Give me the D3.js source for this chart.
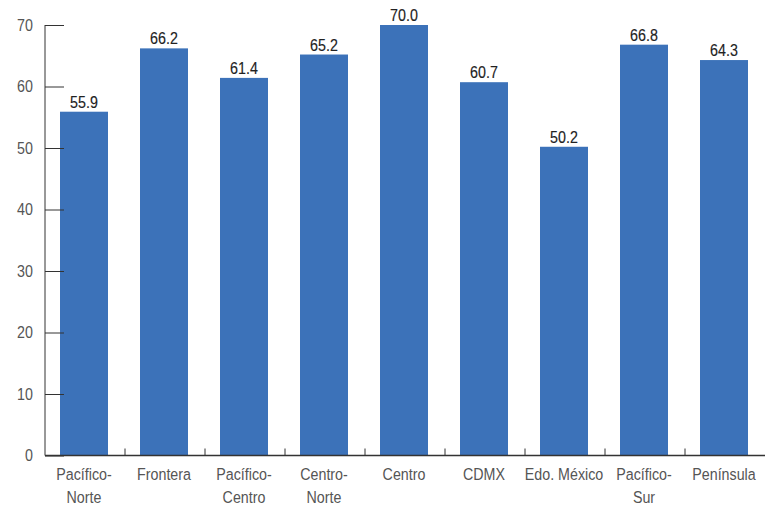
<!DOCTYPE html>
<html><head><meta charset="utf-8">
<script src="https://cdn.jsdelivr.net/npm/d3@7"></script>
<style>body{margin:0;background:#fff}svg{display:block}</style>
</head><body>
<svg id="c" width="769" height="509"></svg>
<script>
const categories = [["Pacífico-","Norte"],["Frontera"],["Pacífico-","Centro"],["Centro-","Norte"],["Centro"],["CDMX"],["Edo. México"],["Pacífico-","Sur"],["Península"]];
const values = [55.9, 66.2, 61.4, 65.2, 70.0, 60.7, 50.2, 66.8, 64.3];
const yTicks = [0,10,20,30,40,50,60,70];

const svg = d3.select("#c");
const font = "'Liberation Sans', Arial, sans-serif";
const SX = 0.84;
const x0 = 45, x1 = 765, yBase = 455.5, yTop = 25;
const keys = categories.map((d,i)=>i);
const x = d3.scaleBand().domain(keys).range([x0,x1]).paddingInner(0.4).paddingOuter(0.2);
const y = d3.scaleLinear().domain([0,70]).range([yBase,yTop]);

function narrowText(sel, px, py, str, anchor, color, dy){
  return sel.append("text")
    .attr("transform",`translate(${px},${py}) scale(${SX},1)`)
    .attr("text-anchor",anchor).attr("dy",dy||0)
    .attr("font-family",font).attr("font-size",17).attr("fill",color).text(str);
}

// bars
svg.selectAll("rect.bar").data(values).join("rect")
  .attr("x",(d,i)=>x(i)-1).attr("width",x.bandwidth())
  .attr("y",d=>y(d)).attr("height",d=>yBase-y(d))
  .attr("fill","#3c72b9");

// value labels
values.forEach((v,i)=>{
  narrowText(svg, x(i)-1+x.bandwidth()/2, y(v)-4, v.toFixed(1), "middle", "#222")
    .attr("stroke","#222").attr("stroke-width",0.15);
});

// y axis
const yAxis = svg.append("g").attr("transform",`translate(${x0},0)`)
  .call(d3.axisRight(y).tickValues(yTicks).tickSize(19).tickFormat(""));
yAxis.select(".domain").remove();
yAxis.selectAll(".tick line").attr("stroke","#333");
yTicks.forEach(t=>{
  narrowText(svg, x0-12, y(t), String(t), "end", "#555", "0.35em");
});
svg.append("line").attr("x1",x0).attr("x2",x0).attr("y1",yTop).attr("y2",yBase).attr("stroke","#333");

// x axis
svg.append("line").attr("x1",x0).attr("x2",x1).attr("y1",yBase).attr("y2",yBase).attr("stroke","#333").attr("stroke-width",1.5);
const step = x.step();
svg.selectAll("line.xt").data(d3.range(1,categories.length)).join("line")
  .attr("x1",i=>x0+i*step).attr("x2",i=>x0+i*step)
  .attr("y1",yBase).attr("y2",yBase-7).attr("stroke","#333");

categories.forEach((lines,i)=>{
  lines.forEach((s,j)=>{
    narrowText(svg, x(i)-1+x.bandwidth()/2, 480+j*23, s, "middle", "#555");
  });
});
</script>
</body></html>
